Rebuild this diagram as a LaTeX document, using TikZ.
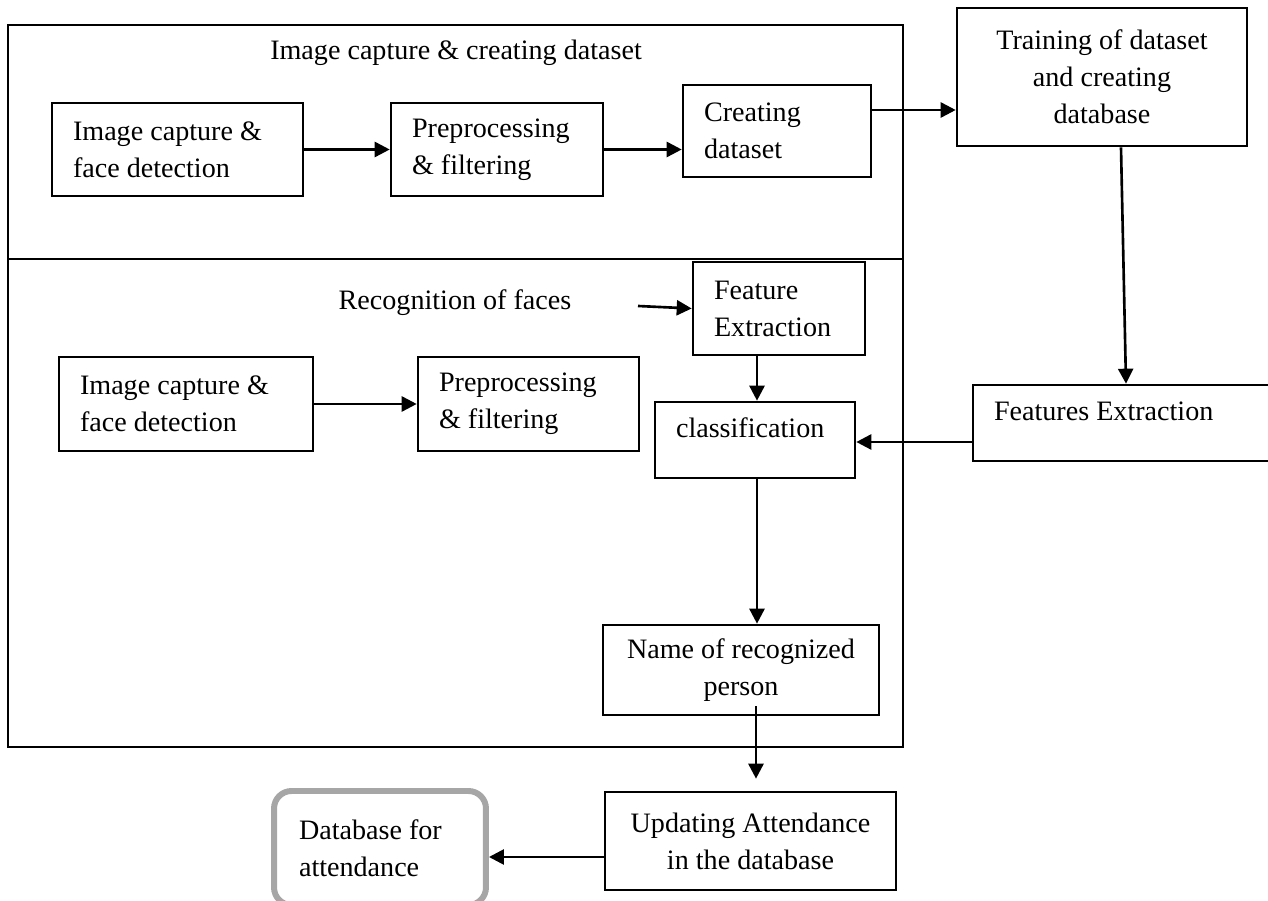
\documentclass[tikz,border=0pt]{standalone}
\usepackage{fontspec}
\setmainfont{Liberation Serif}
\definecolor{roundgray}{RGB}{166, 166, 166}
\usetikzlibrary{arrows.meta, positioning, calc}

\begin{document}
\begin{tikzpicture}[x=0.02cm, y=-0.02cm,
  font=\fontsize{16}{21}\selectfont,
  stage/.style={draw, line width=1.5pt, inner xsep=0.42cm, inner ysep=0pt, align=flush left},
  arr/.style={line width=1.5pt, -{Triangle[length=0.3cm, width=0.3cm]}}]
  \useasboundingbox (0, 0) rectangle (1268, 901);
  % the two stage frames
  \draw[line width=1.5pt] (8, 25) rectangle (903, 747);
  \draw[line width=1.5pt] (8, 259) -- (903, 259);
  \node (titleA) at (456, 53) {Image capture \& creating dataset};
  \node (titleB) at (455, 303) {Recognition of faces};
  % capture stage
  \node[stage, minimum width=5.02cm, minimum height=1.86cm, text width=4.18cm] (capA) at (177.5, 149.5) {Image capture \&\\face detection};
  \node[stage, minimum width=4.24cm, minimum height=1.86cm, text width=3.40cm] (preA) at (497, 149.5) {Preprocessing\\\& filtering};
  \node[stage, minimum width=3.76cm, minimum height=1.84cm, text width=2.92cm] (dataset) at (777, 131) {Creating\\dataset};
  \node[stage, align=flush center, minimum width=5.80cm, minimum height=2.76cm, text width=4.96cm] (train) at (1102, 77) {Training of dataset\\and creating\\database};
  \node[stage, minimum width=5.98cm, minimum height=1.52cm, text width=5.14cm, text height=11pt, text depth=13.4pt] (featsDB) at (1122.5, 423) {Features Extraction};
  % recognition stage
  \node[stage, minimum width=3.44cm, minimum height=1.86cm, text width=2.60cm] (featX) at (779, 308.5) {Feature\\Extraction};
  \node[stage, minimum width=5.08cm, minimum height=1.88cm, text width=4.24cm] (capB) at (186, 404) {Image capture \&\\face detection};
  \node[stage, minimum width=4.42cm, minimum height=1.88cm, text width=3.58cm] (preB) at (528.5, 404) {Preprocessing\\\& filtering};
  \node[stage, minimum width=4.00cm, minimum height=1.52cm, text width=3.16cm, text height=11pt, text depth=13.4pt] (classif) at (755, 440) {classification};
  \node[stage, align=flush center, minimum width=5.52cm, minimum height=1.80cm, text width=4.68cm] (name) at (741, 670) {Name of recognized\\person};
  % attendance
  \node[stage, align=flush center, minimum width=5.82cm, minimum height=1.96cm, text width=4.98cm] (update) at (750.5, 841) {Updating Attendance\\in the database};
  \node[stage, draw=roundgray, line width=3.4pt, rounded corners=0.35cm, inner xsep=0.5cm, minimum width=4.24cm, minimum height=2.28cm, text width=3.24cm] (attdb) at (380, 848) {Database for\\attendance};
  \coordinate (recEnd) at (638, 306);
  % connectors
  \draw[arr] (capA.east) -- (preA.west);
  \draw[arr] (preA.east) -- (preA.east -| dataset.west);
  \draw[arr] ([yshift=0.42cm]dataset.east) -- ([yshift=0.42cm]dataset.east -| train.west);
  \draw[arr] ([xshift=0.38cm]train.south) -- ([xshift=0.07cm]featsDB.north);
  \draw[arr] (recEnd) -- (featX.west);
  \draw[arr] ([xshift=-0.44cm]featX.south) -- ([xshift=-0.44cm]featX.south |- classif.north);
  \draw[arr] ([yshift=-0.38cm]featsDB.west) -- ([yshift=-0.38cm]featsDB.west -| classif.east);
  \draw[arr] (capB.east) -- (preB.west);
  \draw[arr] ([xshift=0.04cm]classif.south) -- ([xshift=0.04cm]classif.south |- name.north);
  \draw[arr, shorten >=0.24cm] ([xshift=0.3cm, yshift=0.2cm]name.south) -- ([xshift=0.3cm]name.south |- update.north);
  \draw[arr] ([yshift=-0.32cm]update.west) -- ([yshift=-0.32cm]update.west -| attdb.east);
\end{tikzpicture}
\end{document}
